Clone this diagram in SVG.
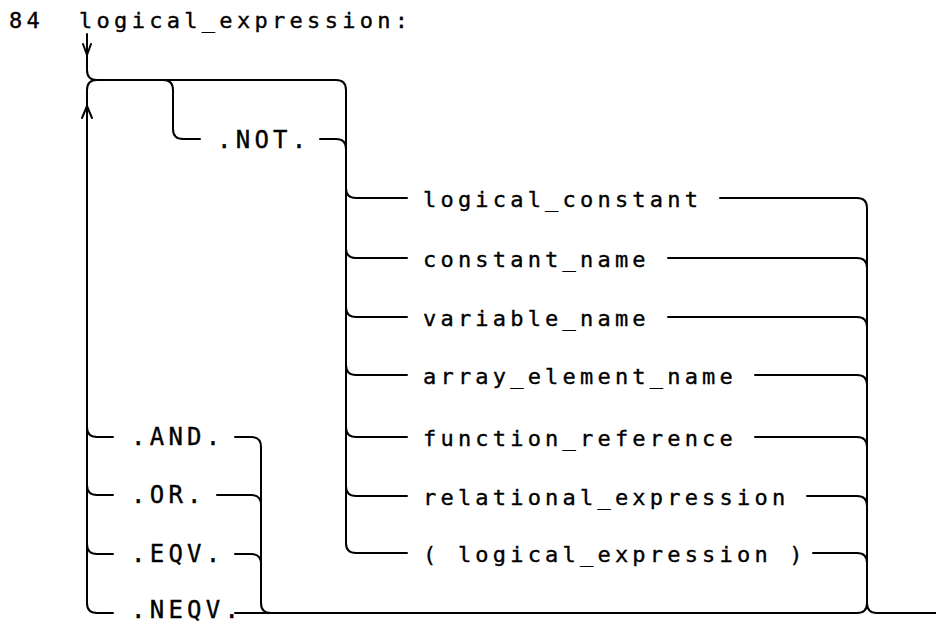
<svg xmlns="http://www.w3.org/2000/svg" width="936" height="625" viewBox="0 0 936 625">
<style>
  .ln { fill: none; stroke: #000; stroke-width: 2; stroke-linecap: round; stroke-linejoin: round; }
  .ti { font-family: "DejaVu Sans Mono", "Liberation Mono", monospace; font-size: 22px; letter-spacing: 4.3px; fill: #000; stroke: #000; stroke-width: 0.35; }
  .it { font-family: "DejaVu Sans Mono", "Liberation Mono", monospace; font-size: 22px; letter-spacing: 4.2px; fill: #000; stroke: #000; stroke-width: 0.35; }
  .kw { font-family: "DejaVu Sans Mono", "Liberation Mono", monospace; font-size: 24px; letter-spacing: 4.25px; fill: #000; stroke: #000; stroke-width: 0.35; }
</style>
<rect width="936" height="625" fill="#fff"/>

<g id="title">
  <text class="ti" x="9" y="28">84</text>
  <text class="ti" x="79" y="28">logical_expression:</text>
</g>

<g id="connectors" class="ln">
  <!-- entry -->
  <path d="M87,34 L87,70 Q87,80 97,80 L336,80 Q346,80 346,90 L346,543 Q346,553 356,553 L407,553"/>
  <path d="M83,44 L87,55 L91,44"/>
  <!-- loop back -->
  <path d="M97,80 Q87,80 87,90 L87,603 Q87,613 97,613 L113,613"/>
  <path d="M82,118 L87,106 L92,118"/>
  <!-- .NOT. -->
  <path d="M163,80 Q173,80 173,90 L173,129 Q173,139 183,139 L200,139"/>
  <path d="M320,139 L336,139 Q346,139 346,149"/>
  <!-- item branches from left -->
  <path d="M346,188 Q346,198 356,198 L407,198"/>
  <path d="M346,248 Q346,258 356,258 L407,258"/>
  <path d="M346,307 Q346,317 356,317 L407,317"/>
  <path d="M346,365 Q346,375 356,375 L407,375"/>
  <path d="M346,427 Q346,437 356,437 L407,437"/>
  <path d="M346,486 Q346,496 356,496 L407,496"/>
  <!-- item merges on right -->
  <path d="M720,198 L857,198 Q867,198 867,208 L867,603"/>
  <path d="M668,258 L857,258 Q867,258 867,268"/>
  <path d="M668,317 L857,317 Q867,317 867,327"/>
  <path d="M755,375 L857,375 Q867,375 867,385"/>
  <path d="M755,437 L857,437 Q867,437 867,447"/>
  <path d="M807,496 L857,496 Q867,496 867,506"/>
  <path d="M813,553 L857,553 Q867,553 867,563"/>
  <!-- exit -->
  <path d="M867,603 Q867,613 877,613 L936,613"/>
  <path d="M235,613 L857,613 Q867,613 867,603"/>
  <!-- operator branches left -->
  <path d="M87,427 Q87,437 97,437 L113,437"/>
  <path d="M87,485 Q87,495 97,495 L113,495"/>
  <path d="M87,544 Q87,554 97,554 L113,554"/>
  <!-- operator merges right -->
  <path d="M235,437 L251,437 Q261,437 261,447 L261,603 Q261,613 271,613"/>
  <path d="M217,495 L251,495 Q261,495 261,505"/>
  <path d="M235,554 L251,554 Q261,554 261,564"/>
</g>

<g id="not"><text class="kw" x="217" y="148">.NOT.</text></g>
<g id="logical_constant"><text class="it" x="423" y="207">logical_constant</text></g>
<g id="constant_name"><text class="it" x="423" y="267">constant_name</text></g>
<g id="variable_name"><text class="it" x="423" y="326">variable_name</text></g>
<g id="array_element_name"><text class="it" x="423" y="384">array_element_name</text></g>
<g id="function_reference"><text class="it" x="423" y="446">function_reference</text></g>
<g id="relational_expression"><text class="it" x="423" y="505">relational_expression</text></g>
<g id="paren_logical_expression"><text class="it" x="423" y="562">( logical_expression )</text></g>
<g id="and"><text class="kw" x="131" y="445">.AND.</text></g>
<g id="or"><text class="kw" x="131" y="503">.OR.</text></g>
<g id="eqv"><text class="kw" x="131" y="562">.EQV.</text></g>
<g id="neqv"><text class="kw" x="131" y="618">.NEQV.</text></g>
</svg>
